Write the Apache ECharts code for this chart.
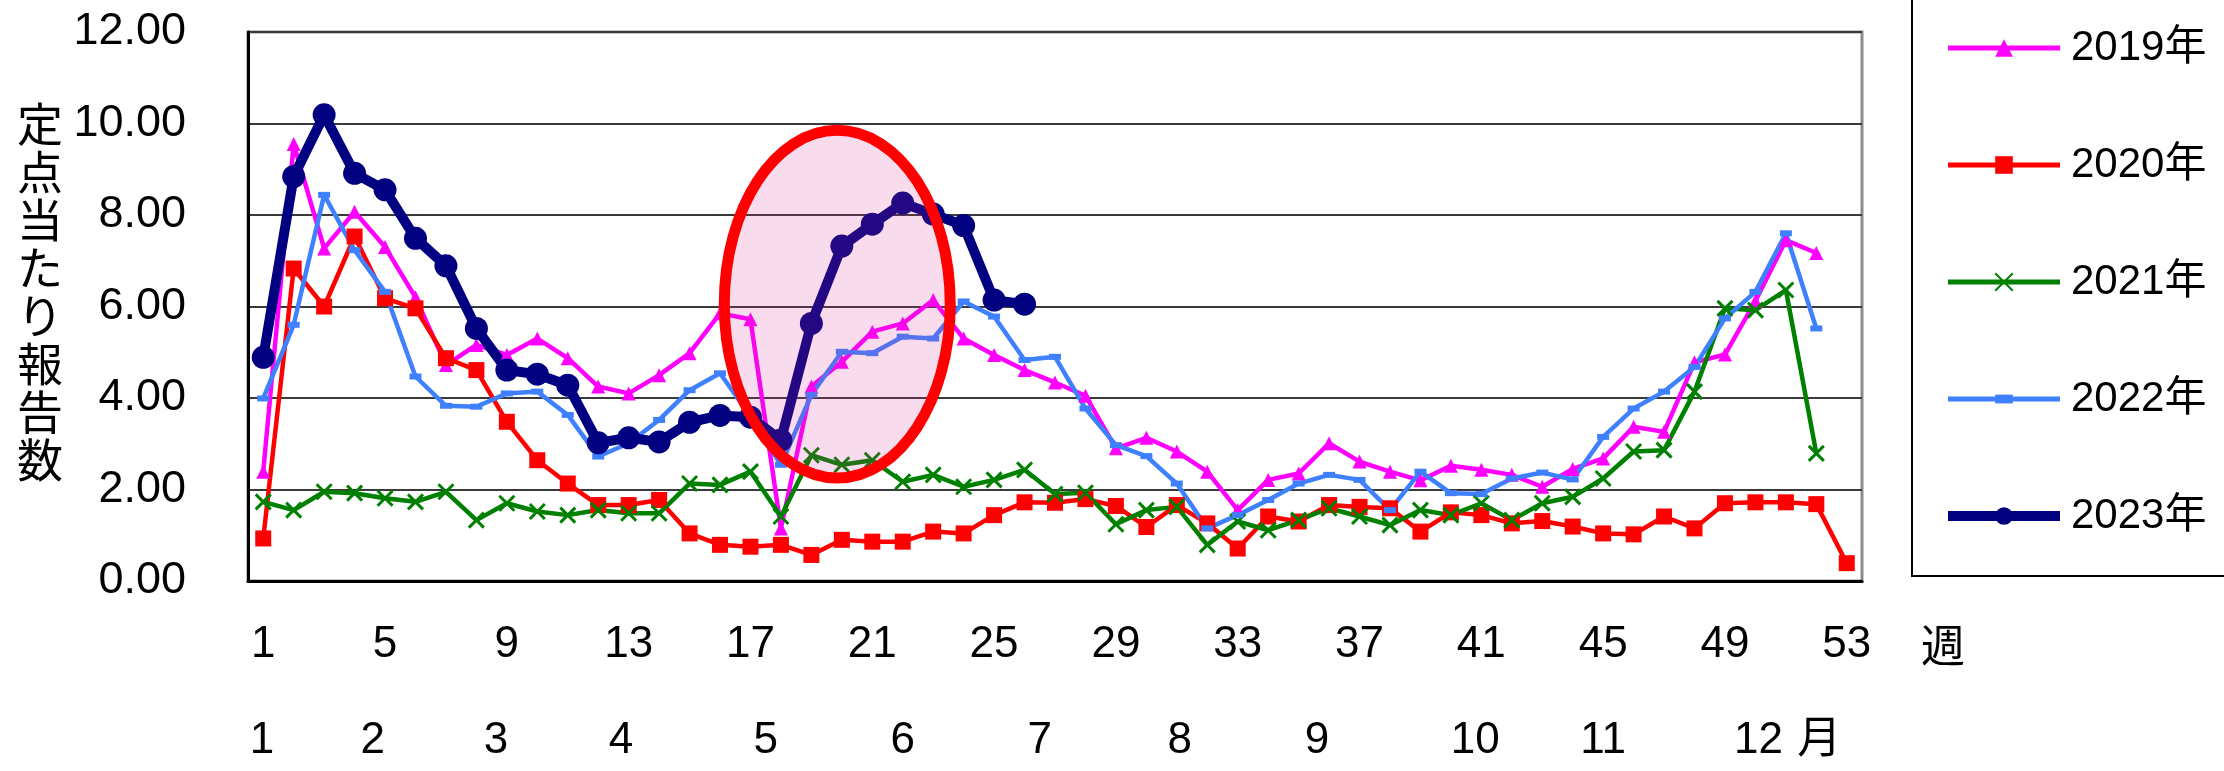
<!DOCTYPE html>
<html lang="ja">
<head>
<meta charset="UTF-8">
<title>定点当たり報告数</title>
<style>
  html, body { margin: 0; padding: 0; background: #fff; }
  #chart { width: 2224px; height: 771px; }
</style>
<script src="https://cdn.jsdelivr.net/npm/echarts@6/dist/echarts.min.js"></script>
</head>
<body>
<div id="chart"></div>
<script>
// week categories (1..53)
var weeks = ['1','2','3','4','5','6','7','8','9','10','11','12','13','14','15','16','17','18','19','20',
  '21','22','23','24','25','26','27','28','29','30','31','32','33','34','35','36','37','38','39','40',
  '41','42','43','44','45','46','47','48','49','50','51','52','53'];

// month labels under the week axis, placed at these week positions
var monthLabels = ['1','2','3','4','5','6','7','8','9','10','11','12','月'];
var monthPos = [0.96, 4.6, 8.64, 12.75, 17.5, 22.0, 26.5, 31.1, 35.6, 40.8, 45.0, 50.1, 52.1];

var yTicks = [0, 2, 4, 6, 8, 10, 12];

// reports per sentinel site, by week
var y2019 = [2.39, 9.55, 7.27, 8.07, 7.30, 6.20, 4.72, 5.16, 4.94, 5.30, 4.87, 4.25, 4.10, 4.50, 4.98, 5.85, 5.72, 1.15, 4.25, 4.79,
  5.45, 5.63, 6.14, 5.30, 4.94, 4.61, 4.34, 4.05, 2.90, 3.13, 2.83, 2.39, 1.55, 2.21, 2.35, 3.01, 2.61, 2.39, 2.20, 2.52,
  2.43, 2.32, 2.06, 2.45, 2.68, 3.37, 3.26, 4.78, 4.95, 6.12, 7.45, 7.17];
var y2020 = [0.93, 6.83, 6.00, 7.53, 6.18, 5.96, 4.87, 4.61, 3.48, 2.64, 2.13, 1.66, 1.66, 1.77, 1.04, 0.79, 0.75, 0.79, 0.57, 0.90,
  0.86, 0.86, 1.08, 1.04, 1.44, 1.72, 1.71, 1.79, 1.64, 1.18, 1.66, 1.26, 0.71, 1.41, 1.30, 1.66, 1.62, 1.59, 1.08, 1.50,
  1.44, 1.26, 1.31, 1.19, 1.04, 1.02, 1.41, 1.15, 1.70, 1.72, 1.72, 1.68, 0.39];
var y2021 = [1.73, 1.55, 1.95, 1.92, 1.81, 1.73, 1.95, 1.33, 1.70, 1.52, 1.44, 1.55, 1.48, 1.48, 2.13, 2.10, 2.39, 1.41, 2.75, 2.54,
  2.64, 2.17, 2.32, 2.06, 2.21, 2.43, 1.90, 1.93, 1.24, 1.55, 1.62, 0.79, 1.30, 1.11, 1.33, 1.59, 1.41, 1.22, 1.55, 1.44,
  1.70, 1.33, 1.70, 1.84, 2.24, 2.83, 2.86, 4.14, 5.96, 5.92, 6.36, 2.79];
var y2022 = [3.99, 5.60, 8.44, 7.23, 6.32, 4.47, 3.83, 3.81, 4.10, 4.14, 3.63, 2.72, 3.01, 3.52, 4.17, 4.54, 3.60, 2.54, 4.07, 5.01,
  4.98, 5.34, 5.30, 6.11, 5.78, 4.83, 4.90, 3.77, 2.97, 2.73, 2.13, 1.15, 1.44, 1.77, 2.13, 2.32, 2.21, 1.55, 2.39, 1.92,
  1.90, 2.24, 2.37, 2.22, 3.15, 3.77, 4.14, 4.68, 5.74, 6.32, 7.60, 5.52];
var y2023 = [4.89, 8.84, 10.19, 8.91, 8.55, 7.49, 6.89, 5.52, 4.61, 4.52, 4.28, 3.02, 3.13, 3.04, 3.47, 3.62, 3.58, 3.08, 5.63, 7.32,
  7.80, 8.26, 8.02, 7.77, 6.14, 6.05];

var FONT = "'Liberation Sans', Arial, 'Noto Sans CJK JP', sans-serif";
var CROSS = 'path://M0,0L10,10M10,0L0,10';
// short dash inside a square box, so it keeps its shape in the legend too
var DASH = 'path://M0,0M10,10M0,2.5H10V7.5H0Z';

var chart = echarts.init(document.getElementById('chart'));

function line(name, data, color, symbol, size, width, extra) {
  var s = {
    name: name,
    type: 'line',
    data: data,
    xAxisIndex: 0,
    symbol: symbol,
    symbolSize: size,
    showAllSymbol: true,
    lineStyle: { color: color, width: width },
    itemStyle: { color: color },
    emphasis: { disabled: true }
  };
  if (extra) Object.assign(s, extra);
  return s;
}

var option = {
  animation: false,
  backgroundColor: '#fff',
  textStyle: { fontFamily: FONT },
  grid: {
    left: 248, right: 362, top: 32, bottom: 190,
    show: true, borderColor: '#8c8c8c', borderWidth: 3
  },
  legend: {
    orient: 'vertical',
    left: 1943, top: 27, padding: 0,
    itemWidth: 112, itemHeight: 22, itemGap: 75,
    textStyle: { fontSize: 42, lineHeight: 42, color: '#000', padding: [0, 0, 0, 6] },
    data: [
      { name: '2019年', lineStyle: { width: 5 } },
      { name: '2020年', lineStyle: { width: 5 } },
      { name: '2021年', lineStyle: { width: 5 } },
      { name: '2022年', lineStyle: { width: 5 } },
      { name: '2023年', lineStyle: { width: 10 } }
    ]
  },
  xAxis: [
    {
      type: 'category',
      data: weeks,
      boundaryGap: true,
      axisLine: { lineStyle: { color: '#000', width: 3 } },
      axisTick: { inside: true, interval: 0, length: 11, lineStyle: { color: '#000', width: 2 } },
      axisLabel: { interval: 3, margin: 42, fontSize: 44, color: '#000' },
      splitLine: { show: false }
    },
    {
      type: 'value',
      min: 0.5, max: 53.5,
      position: 'bottom',
      offset: 128,
      axisLine: { show: false },
      axisTick: { show: false },
      splitLine: { show: false },
      axisLabel: {
        customValues: monthPos,
        margin: 10,
        fontSize: 44,
        color: '#000',
        formatter: function (v) {
          var best = 0;
          for (var i = 1; i < monthPos.length; i++) {
            if (Math.abs(monthPos[i] - v) < Math.abs(monthPos[best] - v)) best = i;
          }
          return monthLabels[best];
        }
      }
    }
  ],
  yAxis: {
    type: 'value',
    min: yTicks[0], max: yTicks[yTicks.length - 1], interval: 2,
    axisLine: { show: true, lineStyle: { color: '#000', width: 3 } },
    axisTick: { show: false },
    axisLabel: {
      margin: 62, fontSize: 45, color: '#000',
      formatter: function (v) { return v.toFixed(2); }
    },
    splitLine: { lineStyle: { color: '#3a3a3a', width: 2 } }
  },
  series: [
    line('2019年', y2019, '#ff00ff', 'triangle', 14, 4.5),
    line('2020年', y2020, '#ff0000', 'rect', 16, 4.5),
    line('2021年', y2021, '#008000', CROSS, 15, 4.5, {
      itemStyle: { color: '#008000', borderColor: '#008000', borderWidth: 3 }
    }),
    line('2022年', y2022, '#3f80ff', DASH, 12, 4.5),
    line('2023年', y2023, '#000080', 'circle', 23, 10)
  ]
};
chart.setOption(option);

// highlight ellipse around weeks 17-24 of 2023, placed through the axes
var cx = chart.convertToPixel({ xAxisIndex: 1 }, 19.85);
var rx = chart.convertToPixel({ xAxisIndex: 1 }, 19.85 + 3.71) - cx;
var cy = chart.convertToPixel({ yAxisIndex: 0 }, 6.05);
var ry = cy - chart.convertToPixel({ yAxisIndex: 0 }, 6.05 + 3.8);

chart.setOption({
  graphic: [
    {
      type: 'ellipse', z: 100,
      shape: { cx: cx, cy: cy, rx: rx, ry: ry },
      style: { fill: 'rgba(212,43,145,0.165)', stroke: '#ff0000', lineWidth: 11 }
    },
    {
      type: 'rect', z: 100,
      shape: { x: 1912, y: -10, width: 400, height: 586 },
      style: { fill: 'none', stroke: '#000', lineWidth: 2 }
    },
    {
      type: 'text', z: 100,
      x: 40, y: 292,
      style: {
        text: '定\n点\n当\nた\nり\n報\n告\n数',
        font: "46px 'Noto Sans CJK JP', sans-serif",
        lineHeight: 48, fill: '#000', align: 'center', verticalAlign: 'middle'
      }
    },
    {
      type: 'text', z: 100,
      x: 1943, y: 645,
      style: {
        text: '週',
        font: "44px 'Noto Sans CJK JP', sans-serif",
        fill: '#000', align: 'center', verticalAlign: 'middle'
      }
    }
  ]
});
</script>
</body>
</html>
